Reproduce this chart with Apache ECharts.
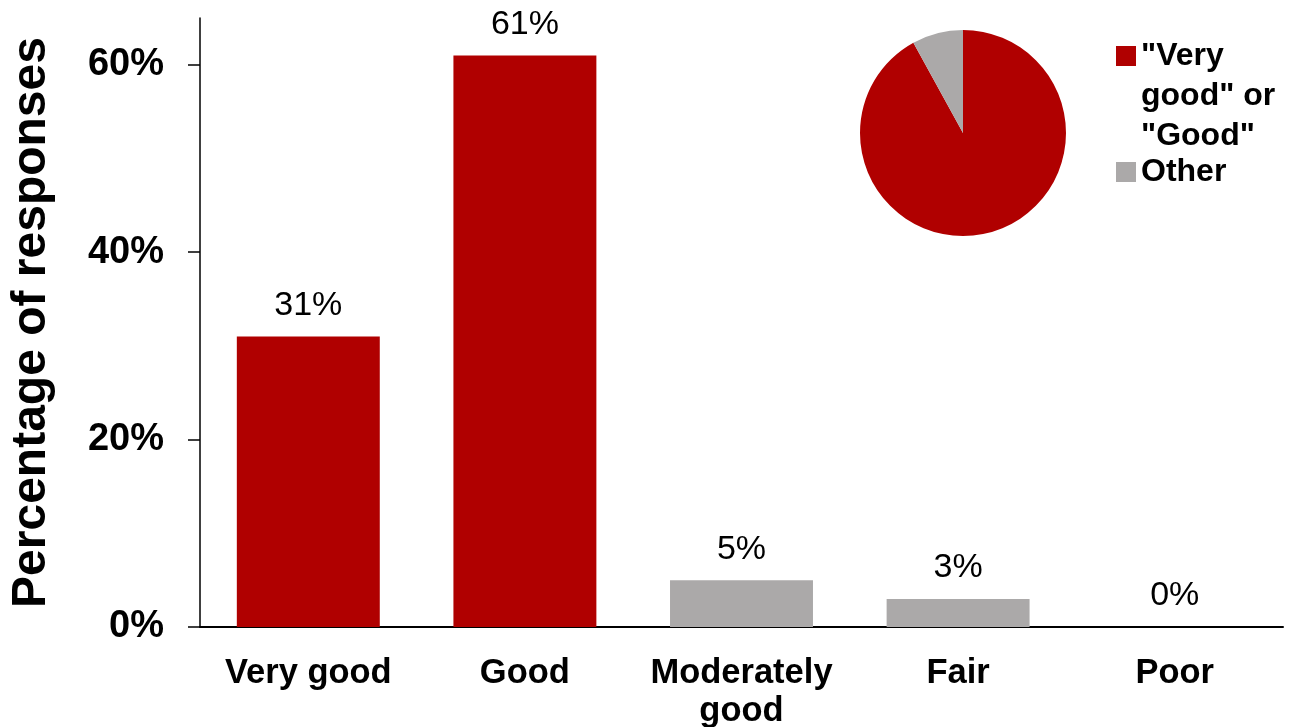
<!DOCTYPE html>
<html>
<head>
<meta charset="utf-8">
<title>Percentage of responses</title>
<script src="https://cdn.jsdelivr.net/npm/echarts@6/dist/echarts.min.js"></script>
<style>
  html, body { margin: 0; padding: 0; background: #ffffff; }
  #chart { width: 1303px; height: 727px; }
</style>
</head>
<body>
<div id="chart"></div>
<script>
// Rating categories and their share of responses (%)
const categories = ['Very good', 'Good', 'Moderately\ngood', 'Fair', 'Poor'];
const responseShare = [31, 61, 5, 3, 0];
// Which summary group each rating belongs to
const ratingGroup = ['"Very good" or "Good"', '"Very good" or "Good"', 'Other', 'Other', 'Other'];

// Summary pie
const pieNames = ['"Very good" or "Good"', 'Other'];
const pieValues = [92, 8];

// Y axis ticks
const yTicks = [0, 20, 40, 60];

const RED = '#B00000';
const GREY = '#ABA9A9';
const groupColor = { '"Very good" or "Good"': RED, 'Other': GREY };
const FONT = '"Liberation Sans", Arial, Helvetica, sans-serif';

const chart = echarts.init(document.getElementById('chart'), null, { renderer: 'canvas' });

const legendText = { color: '#000', fontFamily: FONT, fontWeight: 'bold', fontSize: 32, lineHeight: 40 };

const option = {
  animation: false,
  backgroundColor: '#ffffff',
  textStyle: { fontFamily: FONT },
  grid: { left: 200, right: 20, top: 18, bottom: 100, containLabel: false, outerBoundsMode: 'none' },
  xAxis: {
    type: 'category',
    data: categories,
    axisLine: { lineStyle: { color: '#000', width: 2 } },
    axisTick: { show: false },
    axisLabel: {
      color: '#000', fontFamily: FONT, fontWeight: 'bold', fontSize: 34.5,
      lineHeight: 38, margin: 27, interval: 0
    }
  },
  yAxis: {
    type: 'value',
    min: 0, max: 65, interval: 20,
    name: 'Percentage of responses',
    nameLocation: 'middle',
    nameGap: 144,
    nameTextStyle: { color: '#000', fontFamily: FONT, fontWeight: 'bold', fontSize: 48 },
    axisLine: { show: true, lineStyle: { color: '#000', width: 1.5 } },
    axisTick: { show: true, length: 12, customValues: yTicks, lineStyle: { color: '#000', width: 1.5 } },
    axisLabel: {
      customValues: yTicks,
      formatter: '{value}%',
      color: '#000', fontFamily: FONT, fontWeight: 'bold', fontSize: 38, margin: 36
    },
    splitLine: { show: false }
  },
  legend: [
    {
      // first line of the wrapped label sits beside the swatch
      orient: 'vertical', left: 1116, top: -44, padding: 0,
      itemWidth: 20, itemHeight: 20, icon: 'rect',
      data: [pieNames[0]],
      formatter: () => '\n\n"Very\ngood" or\n"Good"',
      textStyle: legendText
    },
    {
      orient: 'vertical', left: 1116, top: 152, padding: 0,
      itemWidth: 20, itemHeight: 20, icon: 'rect',
      data: [pieNames[1]],
      textStyle: legendText
    }
  ],
  series: [
    {
      type: 'bar',
      barWidth: '66%',
      data: responseShare.map((v, i) => ({
        value: v,
        itemStyle: { color: groupColor[ratingGroup[i]] }
      })),
      label: {
        show: true, position: 'top', distance: 14,
        formatter: '{c}%',
        color: '#000', fontFamily: FONT, fontSize: 34
      }
    },
    {
      type: 'pie',
      center: [963, 133],
      radius: 103,
      startAngle: 90,
      clockwise: true,
      label: { show: false },
      labelLine: { show: false },
      emphasis: { disabled: true },
      data: pieNames.map((n, i) => ({
        name: n, value: pieValues[i],
        itemStyle: { color: groupColor[n] }
      }))
    }
  ]
};

chart.setOption(option);
</script>
</body>
</html>
